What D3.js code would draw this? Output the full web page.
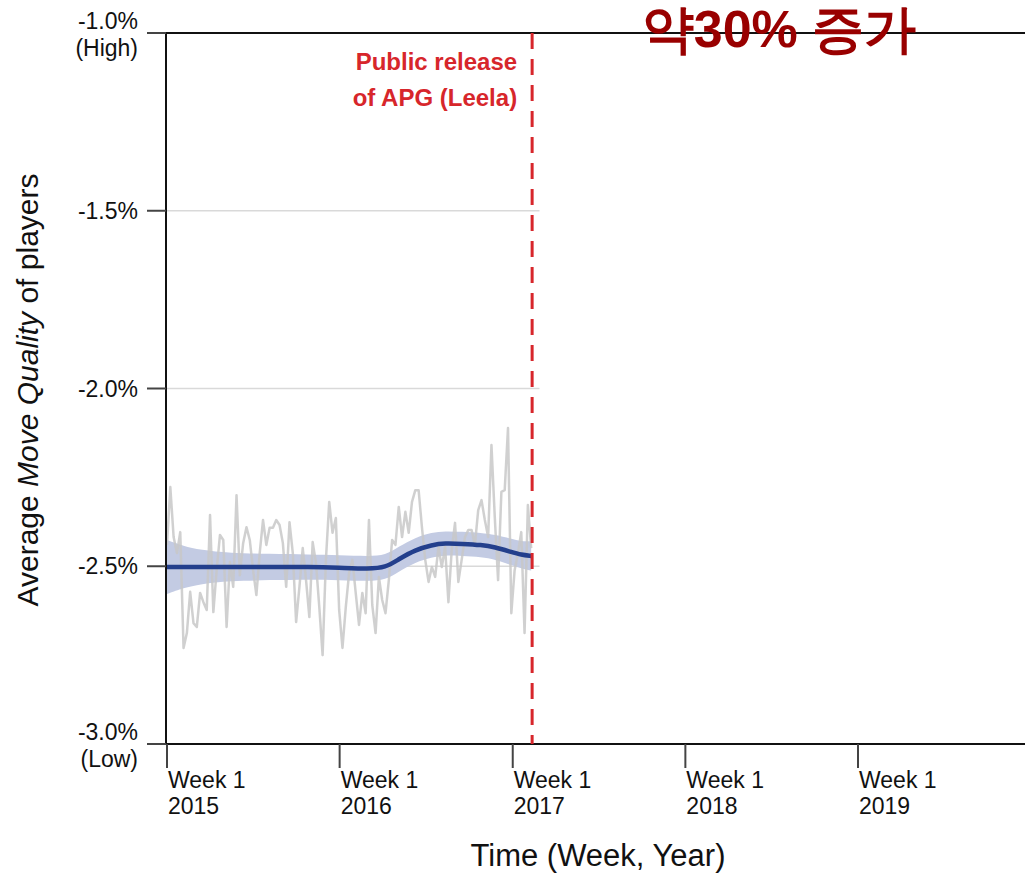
<!DOCTYPE html>
<html>
<head>
<meta charset="utf-8">
<script src="https://cdn.jsdelivr.net/npm/d3@7"></script>
<style>
  html, body { margin: 0; padding: 0; background: #fff; }
  svg { display: block; }
  text { font-family: "Liberation Sans", Arial, sans-serif; }
</style>
</head>
<body>
<svg id="chart" width="1025" height="873"></svg>
<script>
// Weekly average move quality (%), starting Week 1 of 2015
const weeklyQuality = [
  -2.440, -2.277, -2.418, -2.463, -2.404, -2.730, -2.688, -2.572, -2.660, -2.671,
  -2.575, -2.601, -2.623, -2.356, -2.629, -2.511, -2.412, -2.426, -2.671, -2.488,
  -2.558, -2.300, -2.525, -2.435, -2.390, -2.426, -2.511, -2.581, -2.463, -2.370,
  -2.440, -2.392, -2.392, -2.370, -2.384, -2.435, -2.558, -2.376, -2.463, -2.657,
  -2.558, -2.449, -2.539, -2.643, -2.432, -2.491, -2.615, -2.750, -2.482, -2.319,
  -2.406, -2.364, -2.623, -2.730, -2.615, -2.519, -2.482, -2.575, -2.665, -2.575,
  -2.632, -2.370, -2.609, -2.688, -2.530, -2.595, -2.632, -2.539, -2.426, -2.440,
  -2.333, -2.418, -2.347, -2.406, -2.319, -2.286, -2.286, -2.390, -2.482, -2.544,
  -2.502, -2.530, -2.446, -2.502, -2.446, -2.601, -2.454, -2.378, -2.544, -2.482,
  -2.418, -2.398, -2.398, -2.440, -2.342, -2.314, -2.370, -2.418, -2.159, -2.361,
  -2.539, -2.291, -2.286, -2.111, -2.632, -2.511, -2.463, -2.404, -2.688, -2.328,
  -2.449
];

// Smoothed trend with its confidence band (week index from Week 1 2015)
const trendWeeks = [0, 5, 10, 19, 31, 43, 52, 61, 66, 70, 75, 80, 84, 89, 95, 99, 104, 107, 110];
const trendValues = [-2.502, -2.502, -2.502, -2.502, -2.502, -2.502, -2.504, -2.507, -2.504, -2.480,
                     -2.454, -2.440, -2.435, -2.437, -2.440, -2.446, -2.460, -2.468, -2.471];
const trendHalfWidth = [0.076, 0.059, 0.048, 0.039, 0.037, 0.035, 0.035, 0.035, 0.035, 0.035,
                        0.035, 0.035, 0.034, 0.034, 0.034, 0.035, 0.037, 0.038, 0.041];

// Axis ticks
const yTicks = [-1.0, -1.5, -2.0, -2.5, -3.0];
const yTickNotes = { "-1": "(High)", "-3": "(Low)" };
const gridValues = [-1.5, -2.0, -2.5];
const xTickYears = [2015, 2016, 2017, 2018, 2019];

// Event marker
const releaseDate = "2017-02-11";
const releaseLabel = ["Public release", "of APG (Leela)"];
const headline = "약30% 증가";

const svg = d3.select("#chart");
const plot = { left: 166, top: 33, bottom: 744, right: 1025 };

const start = Date.UTC(2015, 0, 1);
const x = d3.scaleUtc()
  .domain([new Date(start), new Date(Date.UTC(2019, 0, 1))])
  .range([167, 858]);
const y = d3.scaleLinear().domain([-3.0, -1.0]).range([plot.bottom, plot.top]);

const weekDate = w => new Date(start + w * 7 * 86400000);
const pct = v => v.toFixed(1) + "%";

// Horizontal gridlines (only across the observed period)
svg.append("g").selectAll("line").data(gridValues).join("line")
  .attr("x1", plot.left).attr("x2", x(weekDate(111)) + 5)
  .attr("y1", d => y(d)).attr("y2", d => y(d))
  .attr("stroke", "#d9d9d9").attr("stroke-width", 1.5);

// Confidence band
const trend = trendWeeks.map((w, i) => ({ date: weekDate(w), v: trendValues[i], h: trendHalfWidth[i] }));
svg.append("path").datum(trend)
  .attr("fill", "#c3cbe3")
  .attr("d", d3.area().curve(d3.curveBasis)
    .x(d => x(d.date)).y0(d => y(d.v - d.h)).y1(d => y(d.v + d.h)));

// Raw weekly series
const weekly = weeklyQuality.map((v, i) => ({ date: weekDate(i), v }));
svg.append("path").datum(weekly)
  .attr("fill", "none").attr("stroke", "#c8c8c8").attr("stroke-width", 2.5).attr("opacity", 0.85)
  .attr("stroke-linejoin", "round")
  .attr("d", d3.line().x(d => x(d.date)).y(d => y(d.v)));

// Smoothed trend line
svg.append("path").datum(trend)
  .attr("fill", "none").attr("stroke", "#233f8c").attr("stroke-width", 4.5)
  .attr("d", d3.line().curve(d3.curveBasis).x(d => x(d.date)).y(d => y(d.v)));

// Axes
const axisColor = "#111";
svg.append("line").attr("x1", 147).attr("x2", plot.right).attr("y1", plot.top).attr("y2", plot.top)
  .attr("stroke", axisColor).attr("stroke-width", 2);
svg.append("line").attr("x1", 147).attr("x2", plot.right).attr("y1", plot.bottom).attr("y2", plot.bottom)
  .attr("stroke", axisColor).attr("stroke-width", 2);
svg.append("line").attr("x1", plot.left).attr("x2", plot.left).attr("y1", plot.top).attr("y2", plot.bottom)
  .attr("stroke", axisColor).attr("stroke-width", 2);

// Y ticks
const yt = svg.append("g").selectAll("g").data(yTicks).join("g")
  .attr("transform", d => `translate(0,${y(d)})`);
yt.append("line").attr("x1", 147).attr("x2", plot.left).attr("stroke", "#444").attr("stroke-width", 2);
yt.each(function(d) {
  const g = d3.select(this);
  const note = yTickNotes[String(d)];
  const t = g.append("text").attr("text-anchor", "end").attr("font-size", 23).attr("fill", "#111");
  if (note) {
    t.append("tspan").attr("x", 138).attr("y", -4).text(pct(d));
    t.append("tspan").attr("x", 138).attr("y", 23).text(note);
  } else {
    t.attr("x", 138).attr("dy", "0.35em").text(pct(d));
  }
});

// X ticks
const xt = svg.append("g").selectAll("g").data(xTickYears).join("g")
  .attr("transform", d => `translate(${x(new Date(Date.UTC(d, 0, 1)))},${plot.bottom})`);
xt.append("line").attr("y1", 0).attr("y2", 24).attr("stroke", "#444").attr("stroke-width", 2);
const xl = xt.append("text").attr("font-size", 23).attr("fill", "#111");
xl.append("tspan").attr("x", 1).attr("y", 44).text("Week 1");
xl.append("tspan").attr("x", 1).attr("y", 70).text(d => d);

// Release marker
const rx = x(new Date(releaseDate + "T00:00:00Z"));
svg.append("line").attr("x1", rx).attr("x2", rx).attr("y1", plot.top).attr("y2", plot.bottom)
  .attr("stroke", "#d7262b").attr("stroke-width", 3).attr("stroke-dasharray", "16,10");
svg.append("text").attr("text-anchor", "end").attr("font-size", 24).attr("font-weight", "bold")
  .attr("fill", "#d7262b")
  .selectAll("tspan").data(releaseLabel).join("tspan")
  .attr("x", rx - 15).attr("y", (d, i) => 70 + i * 36).text(d => d);

// Axis titles
svg.append("text").attr("x", 598).attr("y", 866).attr("text-anchor", "middle")
  .attr("font-size", 31).attr("fill", "#111").text("Time (Week, Year)");
const yTitle = svg.append("text").attr("transform", "translate(38,390) rotate(-90)")
  .attr("text-anchor", "middle").attr("font-size", 30).attr("fill", "#111");
yTitle.append("tspan").text("Average ");
yTitle.append("tspan").attr("font-style", "italic").text("Move Quality");
yTitle.append("tspan").text(" of players");

// Headline
svg.append("text").attr("x", 779).attr("y", 47).attr("text-anchor", "middle")
  .attr("font-family", "'Noto Sans CJK KR', sans-serif").attr("font-weight", "bold")
  .attr("font-size", 52).attr("fill", "#990000").text(headline);
</script>
</body>
</html>
